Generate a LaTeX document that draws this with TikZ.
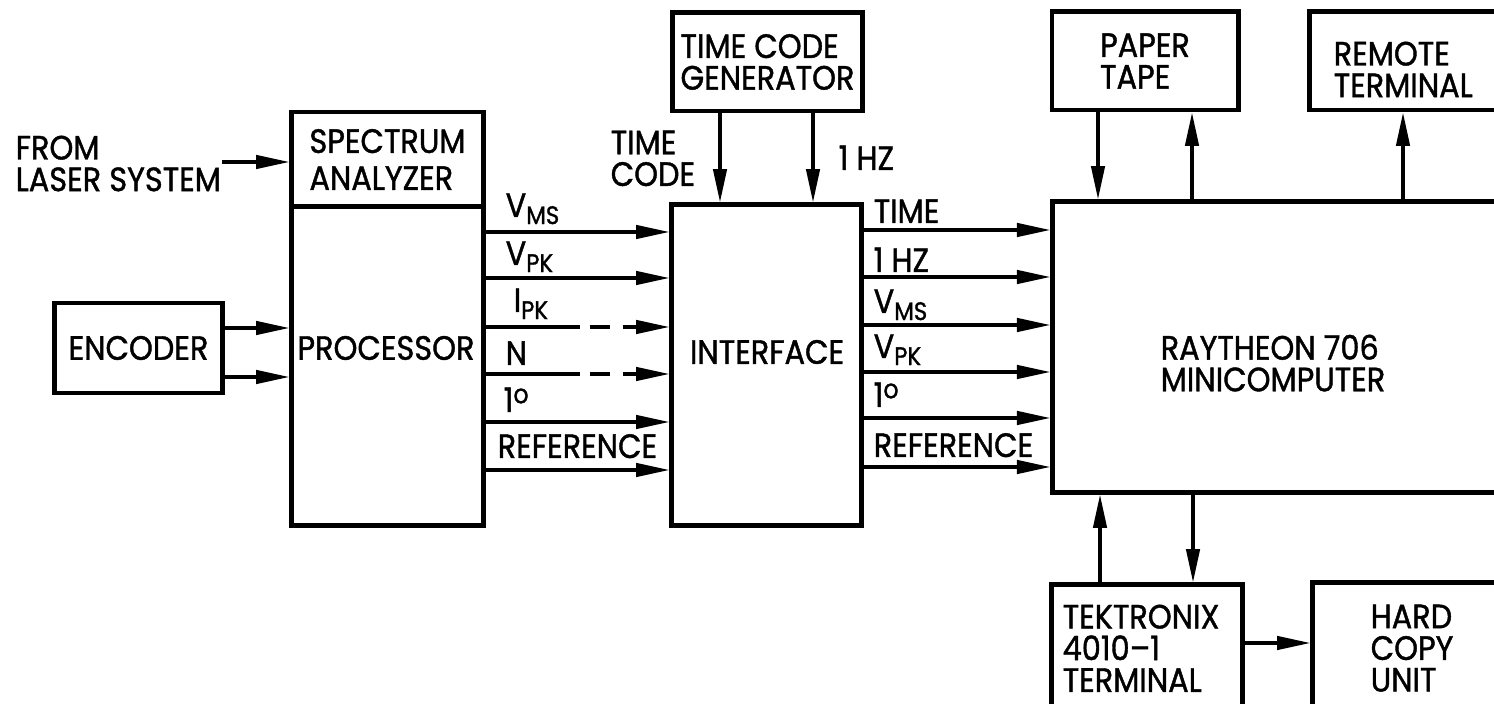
\documentclass[tikz,border=0pt]{standalone}
\usepackage{fontspec}
\setmainfont{Poppins}[FakeStretch=0.9,FakeBold=1.2]
\usetikzlibrary{arrows.meta}
\newcommand{\lowsub}[1]{\raisebox{-2pt}{\fontsize{7.2}{7}\selectfont #1}}
\newcommand{\degsup}{\raisebox{2.5pt}{\fontsize{7.5}{7}\selectfont o}}
\begin{document}
\begin{tikzpicture}[x=0.01cm,y=-0.01cm,
  every node/.style={font=\fontsize{9.6}{9}\selectfont, inner sep=0pt},
  box/.style 2 args={draw,line width=1.4pt,minimum width=#1,minimum height=#2,align=left},
  arr/.style={line width=0.95pt,-{Triangle[length=9.5pt,width=3.8pt]}},
  part/.style={line width=0.95pt,dash pattern=on 27pt off 2.6pt on 5.7pt off 3.7pt on 40pt off 0pt,-{Triangle[length=9.5pt,width=3.8pt]}},
  txt/.style={align=left}]
\useasboundingbox (0,0) rectangle (1494,704);

% boxes
\node[box={1.91cm}{0.95cm}] (spec) at (387.5,159.5) {SPECTRUM\\[1.5pt]ANALYZER};
\node[box={1.91cm}{3.18cm}] (proc) at (387.5,366) {};
\node[box={1.67cm}{0.90cm}] (enc) at (138.5,348) {ENCODER};
\node[box={1.89cm}{0.98cm}] (tcg) at (767.5,62) {TIME CODE\\GENERATOR};
\node[box={1.89cm}{3.20cm}] (intf) at (766.5,365) {};
\node[box={1.86cm}{0.98cm}] (paper) at (1145,61) {PAPER\\TAPE};
\node[box={2.50cm}{0.98cm}] (remote) at (1435,61) {};
\node[box={5.07cm}{2.90cm}] (mc) at (1306.5,347) {};
\node[box={1.90cm}{1.75cm}] (tek) at (1147,672.5) {};
\node[box={2.47cm}{1.77cm}] (hc) at (1436.5,671.5) {};

% box texts
\node[txt] (proct) at (386,348) {PROCESSOR};
\node[txt] (intft) at (767,352) {INTERFACE};
\node[txt,anchor=north west] (mct) at (1160,334) {RAYTHEON 706\\MINICOMPUTER};
\node[txt,anchor=north west] (remt) at (1333,41) {REMOTE\\TERMINAL};
\node[txt,anchor=north west] (tekt) at (1062,604) {TEKTRONIX\\4010--1\\TERMINAL};
\node[txt,anchor=north west] (hct) at (1370,604) {HARD\\COPY\\UNIT};

% free labels
\node[txt,anchor=north west] (laser) at (15,135) {FROM\\LASER SYSTEM};
\node[txt,anchor=north west] (tclab) at (610,130) {TIME\\CODE};
\node[txt,anchor=base west] (hzlab) at (838,170) {1 HZ};

% laser input
\coordinate (lasend) at (222,162);
\draw[arr] (lasend) -- (lasend -| spec.west);

% encoder to processor
\draw[arr] (enc.east |- 0,328) -- (proc.west |- 0,328);
\draw[arr] (enc.east |- 0,377) -- (proc.west |- 0,377);

% processor to interface
\draw[arr] (proc.east |- 0,232) -- (intf.west |- 0,232);
\draw[arr] (proc.east |- 0,278) -- (intf.west |- 0,278);
\draw[part] (proc.east |- 0,327) -- (intf.west |- 0,327);
\draw[part] (proc.east |- 0,374) -- (intf.west |- 0,374);
\draw[arr] (proc.east |- 0,422) -- (intf.west |- 0,422);
\draw[arr] (proc.east |- 0,470) -- (intf.west |- 0,470);

\node[anchor=base west] (l1) at (505,217) {V\lowsub{MS}};
\node[anchor=base west] (l2) at (505,265) {V\lowsub{PK}};
\node[anchor=base west] (l3) at (513,312) {I\lowsub{PK}};
\node[anchor=base west] (l4) at (505,365) {N};
\node[anchor=base west] (l5) at (503,412) {1\degsup};
\node[anchor=base west] (l6) at (497,458) {REFERENCE};

% time code generator to interface
\draw[arr] (tcg.south -| 720,0) -- (intf.north -| 720,0);
\draw[arr] (tcg.south -| 813,0) -- (intf.north -| 813,0);

% interface to minicomputer
\draw[arr] (intf.east |- 0,230) -- (mc.west |- 0,230);
\draw[arr] (intf.east |- 0,277) -- (mc.west |- 0,277);
\draw[arr] (intf.east |- 0,325) -- (mc.west |- 0,325);
\draw[arr] (intf.east |- 0,372) -- (mc.west |- 0,372);
\draw[arr] (intf.east |- 0,418) -- (mc.west |- 0,418);
\draw[arr] (intf.east |- 0,467) -- (mc.west |- 0,467);

\node[anchor=base west] (r1) at (873,223) {TIME};
\node[anchor=base west] (r2) at (873,272) {1 HZ};
\node[anchor=base west] (r3) at (873,313) {V\lowsub{MS}};
\node[anchor=base west] (r4) at (873,358) {V\lowsub{PK}};
\node[anchor=base west] (r5) at (873,407) {1\degsup};
\node[anchor=base west] (r6) at (873,457) {REFERENCE};

% peripherals
\draw[arr] (paper.south -| 1098,0) -- (mc.north -| 1098,0);
\draw[arr] (mc.north -| 1192,0) -- (paper.south -| 1192,0);
\draw[arr] (mc.north -| 1403,0) -- (remote.south -| 1403,0);
\draw[arr] (tek.north -| 1100,0) -- (mc.south -| 1100,0);
\draw[arr] (mc.south -| 1193,0) -- (tek.north -| 1193,0);
\draw[arr] (tek.east |- 0,643) -- (hc.west |- 0,643);
\end{tikzpicture}
\end{document}
